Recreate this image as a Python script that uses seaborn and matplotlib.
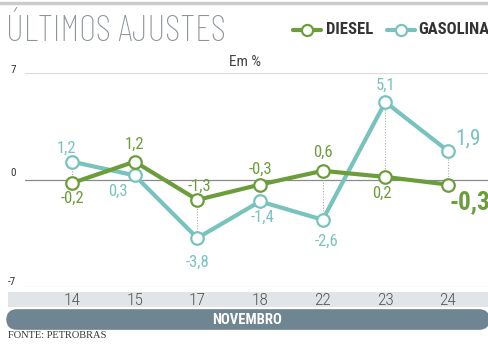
import matplotlib
matplotlib.use("Agg")
import matplotlib.pyplot as plt
from matplotlib.patches import Rectangle, FancyBboxPatch
import seaborn as sns
import pandas as pd

# Data: price adjustments (%) by day of November
days = ["14", "15", "17", "18", "22", "23", "24"]
diesel = [-0.2, 1.2, -1.3, -0.3, 0.6, 0.2, -0.3]
gasolina = [1.2, 0.3, -3.8, -1.4, -2.6, 5.1, 1.9]

# label offsets in pixels (dx, dy), positive dy = up
diesel_off = [(0, -15), (0, 17), (2, 14), (0, 15), (0, 19), (-3, -16), (22, -18)]
gas_off = [(-6, 13), (-17, -16), (0, -24), (2, -16), (4, -22), (0, 17), (20, 12)]

GREEN = "#6b9e3a"
TEAL = "#78c3bd"
COND = ["Roboto Condensed", "DejaVu Sans"]

sns.set_theme(style="white")
plt.rcParams["font.family"] = COND

W, H = 488, 346
fig = plt.figure(figsize=(W / 100, H / 100), dpi=100)
fig.patch.set_facecolor("white")

def fx(px):
    return px / W

def fy(py):
    return 1 - py / H

# plot area: y=7 at 73px, y=-7 at 287px; x from 25px to 488px
ax = fig.add_axes([fx(25), fy(287), fx(488) - fx(25), fy(73) - fy(287)])
ax.set_zorder(3)
x0, dx = 72, 62.67
ax.set_xlim((25 - x0) / dx, (488 - x0) / dx)
ax.set_ylim(-7, 7)

df = pd.DataFrame({"pos": list(range(len(days))) * 2,
                   "valor": diesel + gasolina,
                   "serie": ["DIESEL"] * len(days) + ["GASOLINA"] * len(days)})

# gridlines
ax.axhline(7, color="#dddddd", lw=0.9, zorder=0)
ax.axhline(-7, color="#dddddd", lw=0.9, zorder=0)
ax.axhline(0, color="#8a8a8a", lw=0.9, zorder=1)

# dotted connectors between the two series
for i in range(len(days)):
    ax.plot([i, i], [diesel[i], gasolina[i]], ls=(0, (1, 1.5)), color="#aaaaaa",
            lw=0.8, zorder=1)

sns.lineplot(data=df, x="pos", y="valor", hue="serie",
             palette={"DIESEL": GREEN, "GASOLINA": TEAL},
             hue_order=["GASOLINA", "DIESEL"],
             lw=3.0, marker="o", markersize=9, markerfacecolor="white",
             markeredgewidth=1.6, ax=ax, legend=False, sort=False, zorder=3)
# marker edges in series colours
for line in ax.lines[-2:]:
    line.set_markeredgecolor(line.get_color())

def fmt(v):
    return f"{v:.1f}".replace(".", ",")

for i, v in enumerate(diesel):
    ox, oy = diesel_off[i]
    last = i == len(days) - 1
    ax.annotate(fmt(v), (i, v), xytext=(ox * 0.72, oy * 0.72), textcoords="offset points",
                ha="center", va="center", color=GREEN,
                fontsize=18 if last else 12, fontweight="bold" if last else "normal",
                annotation_clip=False, zorder=5)
for i, v in enumerate(gasolina):
    ox, oy = gas_off[i]
    last = i == len(days) - 1
    ax.annotate(fmt(v), (i, v), xytext=(ox * 0.72, oy * 0.72), textcoords="offset points",
                ha="center", va="center", color=TEAL,
                fontsize=15.5 if last else 12,
                annotation_clip=False, zorder=5)

ax.set_xticks(range(len(days)))
ax.set_xticklabels(days, fontweight="light")
ax.tick_params(axis="x", length=0, pad=4, labelsize=12.5, labelcolor="#555555")
ax.set_yticks([])
ax.set_xlabel("")
ax.set_ylabel("")
for s in ax.spines.values():
    s.set_visible(False)
ax.patch.set_alpha(0)

# y labels above the gridlines
for val, py, px in [("7", 70, 13), ("0", 173, 13), ("-7", 282, 12)]:
    fig.text(fx(px), fy(py), val, ha="center", va="center", fontsize=8, color="#333333")

# band behind day labels
fig.patches.append(Rectangle((fx(8), fy(307)), fx(488) - fx(8), fy(292) - fy(307),
                             transform=fig.transFigure, facecolor="#e1e5e8",
                             edgecolor="none", zorder=-1))
# month bar
fig.patches.append(FancyBboxPatch((fx(16), fy(327) + 0.02), fx(480) - fx(16),
                                  fy(312) - fy(327) - 0.04,
                                  boxstyle="round,pad=0.02,rounding_size=0.022",
                                  transform=fig.transFigure, facecolor="#6f8592",
                                  edgecolor="none", mutation_aspect=W / H, zorder=-1))
fig.text(fx(247), fy(320), "NOVEMBRO", ha="center", va="center", color="white",
         fontsize=10.5, fontweight="bold")

fig.text(fx(8), fy(336), "FONTE: PETROBRAS", ha="left", va="center",
         fontsize=7.5, color="#333333", family=["Liberation Serif", "DejaVu Serif"])

# header
fig.add_artist(plt.Line2D([0, 1], [fy(3), fy(3)], transform=fig.transFigure,
                          color="#cccccc", lw=2.5))
fig.text(fx(6), fy(31), "ÚLTIMOS AJUSTES", ha="left", va="center", fontsize=27,
         color="#8c9499", fontweight="light",
         family=["Barlow Condensed", "Roboto Condensed", "DejaVu Sans"])
fig.text(fx(245), fy(62), "Em %", ha="center", va="center", fontsize=11, color="#444444")

# legend
for lx, color, label, tx in [(293, GREEN, "DIESEL", 326), (387, TEAL, "GASOLINA", 418)]:
    fig.add_artist(plt.Line2D([fx(lx), fx(lx + 28)], [fy(30), fy(30)],
                              transform=fig.transFigure, color=color, lw=3))
    fig.add_artist(plt.Line2D([fx(lx + 14)], [fy(30)], transform=fig.transFigure,
                              color=color, marker="o", markersize=8,
                              markerfacecolor="white", markeredgewidth=1.6, lw=0))
    fig.text(fx(tx), fy(30), label, ha="left", va="center", fontsize=12,
             fontweight="bold", color="#333333")

fig.savefig("out.png", dpi=100, facecolor="white")
